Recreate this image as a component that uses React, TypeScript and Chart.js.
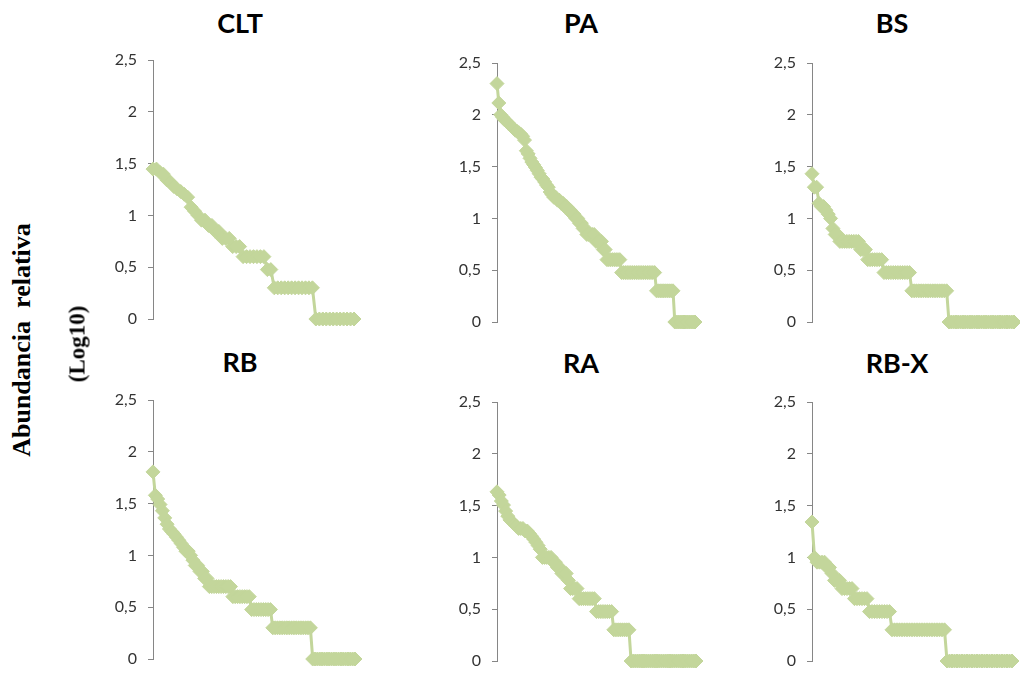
import React, { useEffect, useRef } from "react";
import { Chart, registerables } from "chart.js";

Chart.register(...registerables);

// Rank–abundance values (log10 of relative abundance)
const CLT_VALUES = [
  1.447, 1.447, 1.415, 1.398, 1.342, 1.322, 1.279, 1.255, 1.23, 1.204, 1.176, 1.079, 1.041, 1.0,
  0.954, 0.954, 0.903, 0.903, 0.845, 0.845, 0.778, 0.778, 0.778, 0.699, 0.699, 0.699,
  0.602, 0.602, 0.602, 0.602, 0.602, 0.602, 0.602,
  0.477, 0.477,
  0.301, 0.301, 0.301, 0.301, 0.301, 0.301, 0.301, 0.301, 0.301, 0.301, 0.301, 0.301,
  0, 0, 0, 0, 0, 0, 0, 0, 0, 0, 0, 0,
];

const PA_VALUES = [
  2.301, 2.114, 2.0, 1.978, 1.954, 1.94, 1.924, 1.903, 1.886, 1.869, 1.851, 1.839, 1.826, 1.813,
  1.792, 1.756, 1.653, 1.623, 1.58, 1.544, 1.519, 1.491, 1.462, 1.431, 1.398, 1.38, 1.352, 1.322,
  1.301, 1.255, 1.23, 1.204, 1.204, 1.176, 1.176, 1.146, 1.146, 1.114, 1.114, 1.079, 1.079,
  1.041, 1.041, 1.0, 1.0, 0.954, 0.954, 0.903, 0.903, 0.845, 0.845, 0.845, 0.845, 0.845,
  0.778, 0.778, 0.778, 0.778, 0.699, 0.699,
  0.602, 0.602, 0.602, 0.602, 0.602, 0.602, 0.602, 0.602,
  0.477, 0.477, 0.477, 0.477, 0.477, 0.477, 0.477, 0.477, 0.477, 0.477, 0.477, 0.477, 0.477,
  0.477, 0.477, 0.477, 0.477, 0.477, 0.477,
  0.301, 0.301, 0.301, 0.301, 0.301, 0.301, 0.301, 0.301, 0.301, 0.301,
  0, 0, 0, 0, 0, 0, 0, 0, 0, 0, 0, 0,
];

const BS_VALUES = [
  1.431, 1.301, 1.301, 1.146, 1.114, 1.114, 1.079, 1.041, 1.0, 0.903, 0.845, 0.845,
  0.778, 0.778, 0.778, 0.778, 0.778, 0.778, 0.778, 0.778, 0.778,
  0.699, 0.699, 0.699,
  0.602, 0.602, 0.602, 0.602, 0.602, 0.602, 0.602,
  0.477, 0.477, 0.477, 0.477, 0.477, 0.477, 0.477, 0.477, 0.477, 0.477, 0.477, 0.477,
  0.301, 0.301, 0.301, 0.301, 0.301, 0.301, 0.301, 0.301, 0.301, 0.301, 0.301, 0.301, 0.301,
  0.301, 0.301, 0.301,
  0, 0, 0, 0, 0, 0, 0, 0, 0, 0, 0, 0, 0, 0, 0, 0, 0, 0, 0, 0, 0, 0, 0, 0, 0, 0, 0, 0, 0,
];

const RB_VALUES = [
  1.806, 1.58, 1.544, 1.491, 1.431, 1.362, 1.301, 1.255, 1.23, 1.204, 1.176, 1.146, 1.114,
  1.079, 1.041, 1.041, 1.0, 0.954, 0.903, 0.903, 0.845, 0.845, 0.778, 0.778,
  0.699, 0.699, 0.699, 0.699, 0.699, 0.699, 0.699, 0.699, 0.699, 0.699,
  0.602, 0.602, 0.602, 0.602, 0.602, 0.602, 0.602, 0.602,
  0.477, 0.477, 0.477, 0.477, 0.477, 0.477, 0.477, 0.477, 0.477,
  0.301, 0.301, 0.301, 0.301, 0.301, 0.301, 0.301, 0.301, 0.301, 0.301, 0.301, 0.301, 0.301,
  0.301, 0.301, 0.301, 0.301,
  0, 0, 0, 0, 0, 0, 0, 0, 0, 0, 0, 0, 0, 0, 0, 0, 0, 0, 0,
];

const RA_VALUES = [
  1.633, 1.602, 1.544, 1.505, 1.447, 1.398, 1.362, 1.342, 1.322, 1.301, 1.279, 1.279, 1.279,
  1.255, 1.255, 1.23, 1.204, 1.176, 1.146, 1.114, 1.079, 1.0, 1.0, 1.0, 1.0, 1.0, 0.954, 0.954,
  0.903, 0.903, 0.845, 0.845, 0.845, 0.778,
  0.699, 0.699, 0.699, 0.699,
  0.602, 0.602, 0.602, 0.602, 0.602, 0.602, 0.602, 0.602,
  0.477, 0.477, 0.477, 0.477, 0.477, 0.477, 0.477, 0.477,
  0.301, 0.301, 0.301, 0.301, 0.301, 0.301, 0.301, 0.301,
  0, 0, 0, 0, 0, 0, 0, 0, 0, 0, 0, 0, 0, 0, 0, 0, 0, 0, 0, 0, 0, 0, 0, 0, 0, 0, 0, 0, 0, 0, 0,
];

const RBX_VALUES = [
  1.342, 1.0, 0.954, 0.954, 0.954, 0.954, 0.903, 0.903, 0.845, 0.778, 0.778, 0.778,
  0.699, 0.699, 0.699, 0.699, 0.699,
  0.602, 0.602, 0.602, 0.602, 0.602, 0.602,
  0.477, 0.477, 0.477, 0.477, 0.477, 0.477, 0.477, 0.477, 0.477,
  0.301, 0.301, 0.301, 0.301, 0.301, 0.301, 0.301, 0.301, 0.301, 0.301, 0.301, 0.301, 0.301,
  0.301, 0.301, 0.301, 0.301, 0.301, 0.301, 0.301, 0.301, 0.301,
  0, 0, 0, 0, 0, 0, 0, 0, 0, 0, 0, 0, 0, 0, 0, 0, 0, 0, 0, 0, 0, 0, 0, 0, 0, 0, 0,
];

const PANEL_TITLES = ["CLT", "PA", "BS", "RB", "RA", "RB-X"];
const Y_TICKS_MIN = 0;
const Y_TICKS_MAX = 2.5;
const Y_TICK_STEP = 0.5;
const Y_LABEL_LINE1 = "Abundancia  relativa";
const Y_LABEL_LINE2 = "(Log10)";

const GREEN = "#C3D69B";
const AXIS_GRAY = "#868686";
const TICK_TEXT = "#333333";

// Layout (pixel positions of each panel on the page)
const LAYOUT = [
  { values: CLT_VALUES, axisX: 153, yTop: 60, yBot: 319, lastX: 354, titleX: 240, titleY: 22 },
  { values: PA_VALUES, axisX: 497, yTop: 63, yBot: 322, lastX: 695, titleX: 581, titleY: 22 },
  { values: BS_VALUES, axisX: 812, yTop: 63, yBot: 322, lastX: 1014, titleX: 892, titleY: 22 },
  { values: RB_VALUES, axisX: 153, yTop: 400, yBot: 659, lastX: 355, titleX: 240, titleY: 361 },
  { values: RA_VALUES, axisX: 497, yTop: 402, yBot: 661, lastX: 696, titleX: 581, titleY: 362 },
  { values: RBX_VALUES, axisX: 812, yTop: 402, yBot: 661, lastX: 1012, titleX: 897, titleY: 362 },
];

const LEFT = 70;
const PAD = 12;

function Panel({ cfg }: { cfg: any }) {
  const ref = useRef<HTMLCanvasElement>(null);
  const w = cfg.lastX - cfg.axisX + LEFT + PAD;
  const h = cfg.yBot - cfg.yTop + 2 * PAD;

  useEffect(() => {
    if (!ref.current) return;
    const chart = new Chart(ref.current, {
      type: "line",
      data: {
        labels: cfg.values.map((_: number, i: number) => String(i + 1)),
        datasets: [
          {
            data: cfg.values,
            borderColor: GREEN,
            backgroundColor: GREEN,
            borderWidth: 3,
            pointStyle: "rectRot",
            pointRadius: 7,
            pointBackgroundColor: GREEN,
            pointBorderColor: GREEN,
            pointBorderWidth: 1,
            tension: 0,
            clip: false as any,
          },
        ],
      },
      options: {
        responsive: false,
        animation: false,
        devicePixelRatio: 1,
        layout: { padding: { left: 0, right: PAD, top: PAD, bottom: PAD } },
        plugins: { legend: { display: false }, tooltip: { enabled: false }, title: { display: false } },
        scales: {
          x: { display: false, offset: false },
          y: {
            min: Y_TICKS_MIN,
            max: Y_TICKS_MAX,
            ticks: {
              stepSize: Y_TICK_STEP,
              padding: 11,
              color: TICK_TEXT,
              font: { family: "Lato", size: 16 },
              callback: (v: any) => String(v).replace(".", ","),
            },
            grid: {
              display: true,
              drawOnChartArea: false,
              drawTicks: true,
              tickLength: 5,
              color: AXIS_GRAY,
            },
            border: { display: true, color: AXIS_GRAY, width: 1 },
            afterFit: (s: any) => {
              s.width = LEFT;
              s.paddingTop = 0;
              s.paddingBottom = 0;
            },
          },
        },
      },
    });
    return () => chart.destroy();
  }, []);

  return (
    <canvas
      ref={ref}
      width={w}
      height={h}
      style={{ position: "absolute", left: cfg.axisX - LEFT, top: cfg.yTop - PAD, width: w, height: h }}
    />
  );
}

export default function App() {
  return (
    <div style={{ position: "absolute", left: 0, top: 0, width: 1020, height: 673, background: "#fff", overflow: "hidden" }}>
      {LAYOUT.map((cfg, i) => (
        <React.Fragment key={i}>
          <Panel cfg={cfg} />
          <div
            style={{
              position: "absolute",
              left: cfg.titleX,
              top: cfg.titleY,
              transform: "translate(-50%, -50%)",
              fontFamily: "Lato, sans-serif",
              fontWeight: 700,
              fontSize: 27,
              lineHeight: 1,
              color: "#000",
              whiteSpace: "nowrap",
            }}
          >
            {PANEL_TITLES[i]}
          </div>
        </React.Fragment>
      ))}
      <div
        style={{
          position: "absolute",
          left: 22,
          top: 340,
          transform: "translate(-50%, -50%) rotate(-90deg)",
          fontFamily: "'Liberation Serif', serif",
          fontWeight: 700,
          fontSize: 26,
          lineHeight: 1,
          whiteSpace: "pre",
          color: "#000",
        }}
      >
        {Y_LABEL_LINE1}
      </div>
      <div
        style={{
          position: "absolute",
          left: 77,
          top: 344,
          transform: "translate(-50%, -50%) rotate(-90deg)",
          fontFamily: "'Liberation Serif', serif",
          fontWeight: 700,
          fontSize: 23,
          lineHeight: 1,
          whiteSpace: "pre",
          color: "#000",
        }}
      >
        {Y_LABEL_LINE2}
      </div>
    </div>
  );
}
